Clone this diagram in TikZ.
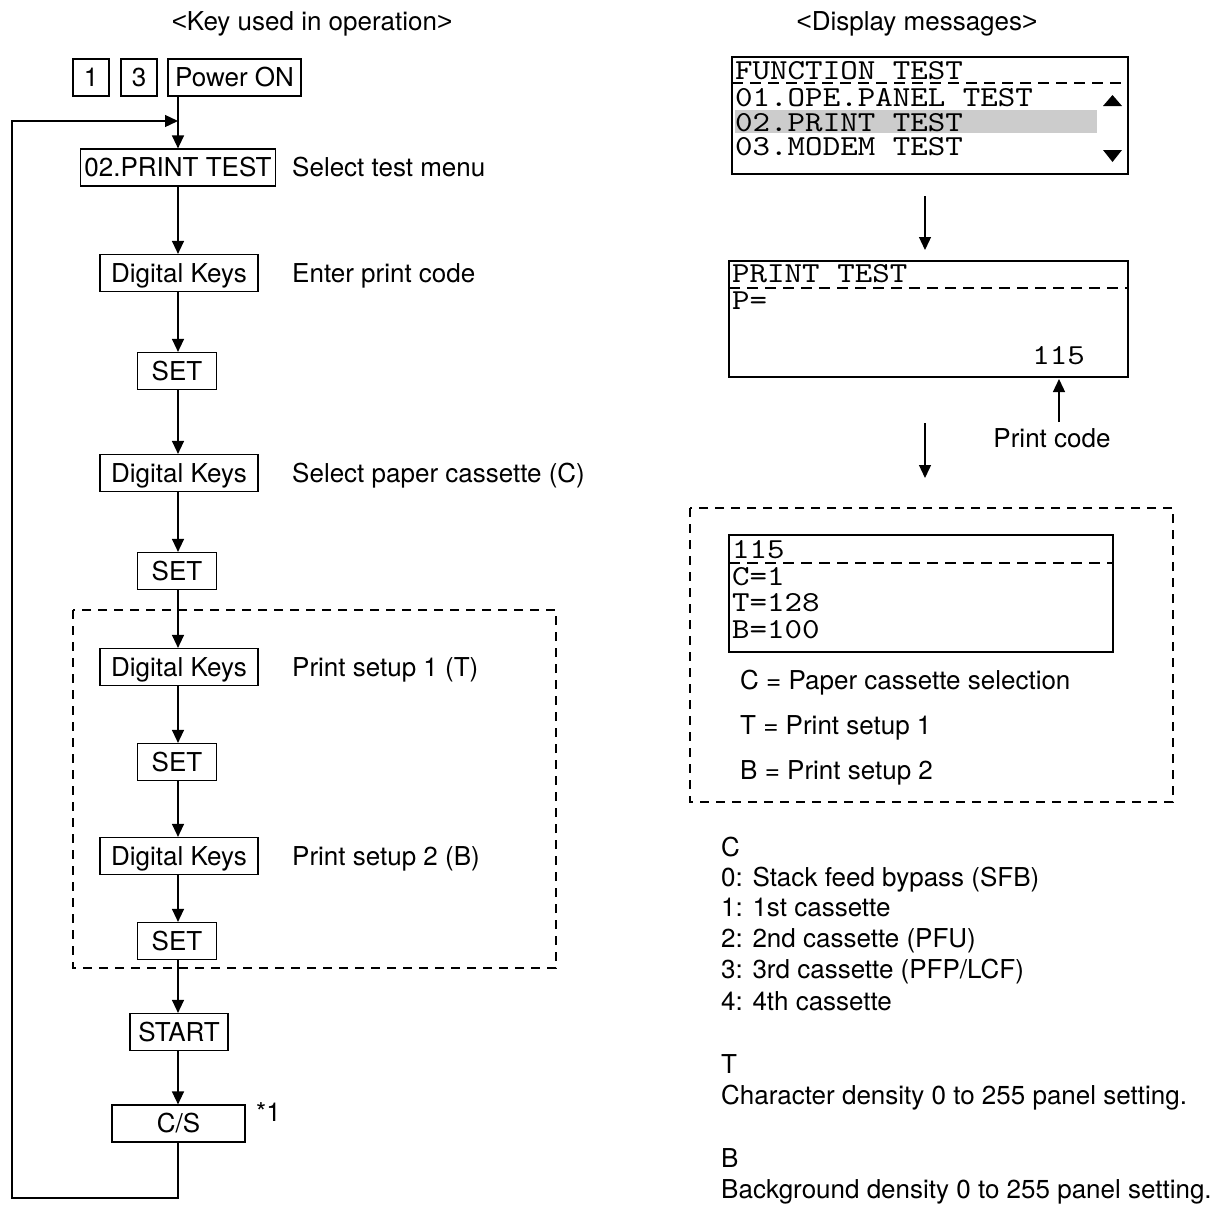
\documentclass[tikz,border=0pt]{standalone}
\usepackage{fontspec}
\setmainfont{TeX Gyre Heros}
\newfontfamily\dispfont{lmmono10-regular.otf}[FakeStretch=1.15]
\newfontfamily\libsans{Liberation Sans}
\usetikzlibrary{arrows.meta}
\newcommand\sfs{\fontsize{26}{31}\selectfont}
\newcommand\dfs{\dispfont\fontsize{29}{34}\selectfont}
\newcommand\lt{{\libsans<}}
\newcommand\gt{{\libsans>}}
\tikzset{
  keybox/.style={draw, line width=1.2pt, inner sep=0pt, minimum height=37pt,
    text height=18.7pt, text depth=0pt, font=\sfs},
  lbl/.style={inner sep=0pt, anchor=west, text height=18.7pt, text depth=0pt, font=\sfs},
  disp/.style={draw, line width=2.5pt, inner sep=0pt},
  mono/.style={inner sep=0pt, anchor=west, text height=17.5pt, text depth=0pt, font=\dfs},
  flow/.style={line width=1.3pt, -{Triangle[length=13pt,width=12pt]}},
  hdash/.style={dash pattern=on 9pt off 7pt, line width=1.2pt},
  ddash/.style={dash pattern=on 11pt off 7pt, line width=1.2pt},
}
\begin{document}
\begin{tikzpicture}[x=1pt,y=-1pt]
\useasboundingbox (0,0) rectangle (1223,1208);

% headers
\node[lbl, anchor=center] (h1) at (312,21) {\lt Key used in operation\gt};
\node[lbl, anchor=center] (h2) at (917,21) {\lt Display messages\gt};

% ---------- left flow ----------
\draw[hdash] (73,610) rectangle (556,968);

\node[keybox, minimum width=36pt] (k1) at (91,77.5) {1};
\node[keybox, minimum width=36pt] (k3) at (139,77.5) {3};
\node[keybox, minimum width=133pt] (pwr) at (234.5,77.5) {Power ON};

\node[keybox, minimum width=195pt] (pt) at (178,167.5) {02.PRINT TEST};
\node[lbl] (l1) at (292,167.5) {Select test menu};

\node[keybox, minimum width=158pt] (dk1) at (179,273) {Digital Keys};
\node[lbl] (l2) at (292,273) {Enter print code};
\node[keybox, minimum width=79pt] (set1) at (177,371) {SET};
\node[keybox, minimum width=158pt] (dk2) at (179,473) {Digital Keys};
\node[lbl] (l3) at (292,473) {Select paper cassette (C)};
\node[keybox, minimum width=79pt] (set2) at (177,571) {SET};
\node[keybox, minimum width=158pt] (dk3) at (179,667) {Digital Keys};
\node[lbl] (l4) at (292,667) {Print setup 1 (T)};
\node[keybox, minimum width=79pt] (set3) at (177,762) {SET};
\node[keybox, minimum width=158pt] (dk4) at (179,856) {Digital Keys};
\node[lbl] (l5) at (292,856) {Print setup 2 (B)};
\node[keybox, minimum width=79pt] (set4) at (177,941) {SET};
\node[keybox, minimum width=98pt] (start) at (179,1032) {START};
\node[keybox, minimum width=133pt] (cs) at (178.5,1123.5) {C/S};
\node[lbl] (star) at (256,1112) {*1};

\coordinate (main) at (178,0);
\draw[flow] (pwr.south -| main) -- (pt.north -| main);
\draw[flow] (pt.south -| main) -- (dk1.north -| main);
\draw[flow] (dk1.south -| main) -- (set1.north -| main);
\draw[flow] (set1.south -| main) -- (dk2.north -| main);
\draw[flow] (dk2.south -| main) -- (set2.north -| main);
\draw[flow] (set2.south -| main) -- (dk3.north -| main);
\draw[flow] (dk3.south -| main) -- (set3.north -| main);
\draw[flow] (set3.south -| main) -- (dk4.north -| main);
\draw[flow] (dk4.south -| main) -- (set4.north -| main);
\draw[flow] (set4.south -| main) -- (start.north -| main);
\draw[flow] (start.south -| main) -- (cs.north -| main);

\coordinate (lb) at (12,1198);
\coordinate (ltop) at (12,121);
\coordinate (jn) at (178,121);
\draw[flow] (cs.south -| main) |- (lb) -- (ltop) -- (jn);

% ---------- right: display 1 ----------
\fill[gray!40] (735,110) rectangle (1097,133);
\node[disp, minimum width=396pt, minimum height=117pt] (d1) at (930,115.5) {};
\draw[ddash] (732,83) -- (1128,83);
\node[mono] (d1a) at (735,70.5) {FUNCTION TEST};
\node[mono] (d1b) at (735,98) {01.OPE.PANEL TEST};
\node[mono] (d1c) at (735,122.5) {02.PRINT TEST};
\node[mono] (d1d) at (735,147) {03.MODEM TEST};
\fill (1103,106) -- (1122,106) -- (1112.5,95) -- cycle;
\fill (1103,150) -- (1122,150) -- (1112.5,162) -- cycle;

\coordinate (a1s) at (925,196);
\coordinate (a1e) at (925,250);
\draw[flow] (a1s) -- (a1e);

% ---------- display 2 ----------
\node[disp, minimum width=399pt, minimum height=116pt] (d2) at (928.5,319) {};
\draw[ddash] (729,288) -- (1128,288);
\node[mono] (d2a) at (732,274) {PRINT TEST};
\node[mono] (d2b) at (732,301) {P=};
\node[mono, anchor=east] (d2c) at (1085,356) {115};

\node[lbl, anchor=center] (pc) at (1052,438) {Print code};
\coordinate (pcs) at (1059,422);
\coordinate (pce) at (1059,379);
\draw[flow] (pcs) -- (pce);

\coordinate (a2s) at (925,423);
\coordinate (a2e) at (925,478);
\draw[flow] (a2s) -- (a2e);

% ---------- display 3 ----------
\draw[hdash] (690,508) rectangle (1173,802);
\node[disp, minimum width=384pt, minimum height=117pt] (d3) at (921,593.5) {};
\draw[ddash] (729,563) -- (1113,563);
\node[mono] (d3a) at (732,550) {115};
\node[mono] (d3b) at (732,576.5) {C=1};
\node[mono] (d3c) at (732,603) {T=128};
\node[mono] (d3d) at (732,629.5) {B=100};

\node[lbl] (g1) at (740,680) {C = Paper cassette selection};
\node[lbl] (g2) at (740,725) {T = Print setup 1};
\node[lbl] (g3) at (740,770) {B = Print setup 2};

% ---------- notes ----------
\node[lbl] (n1) at (721,847) {C};
\node[lbl] (n2) at (721,877) {0: Stack feed bypass (SFB)};
\node[lbl] (n3) at (721,907) {1: 1st cassette};
\node[lbl] (n4) at (721,938) {2: 2nd cassette (PFU)};
\node[lbl] (n5) at (721,969) {3: 3rd cassette (PFP/LCF)};
\node[lbl] (n6) at (721,1001) {4: 4th cassette};
\node[lbl] (n7) at (721,1064) {T};
\node[lbl] (n8) at (721,1095) {Character density 0 to 255 panel setting.};
\node[lbl] (n9) at (721,1158) {B};
\node[lbl] (n10) at (721,1189) {Background density 0 to 255 panel setting.};
\end{tikzpicture}
\end{document}
